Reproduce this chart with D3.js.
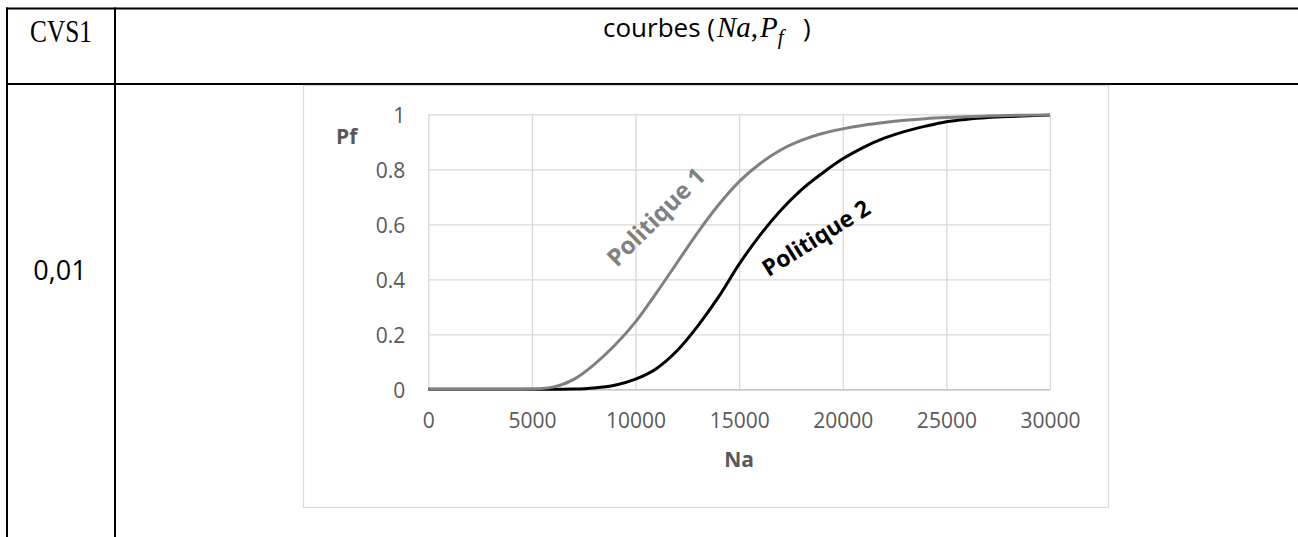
<!DOCTYPE html>
<html>
<head>
<meta charset="utf-8">
<script src="https://cdn.jsdelivr.net/npm/d3@7"></script>
<style>
  body { margin: 0; background: #fff; }
  svg { display: block; }
</style>
</head>
<body>
<svg id="chart" width="1298" height="537"></svg>
<script>
// Number of cycles Na and failure probability Pf for the two maintenance policies
const naValues = [0, 1000, 2000, 3000, 4000, 5000, 6000, 7000, 8000, 9000, 10000,
  11000, 12000, 13000, 14000, 15000, 16000, 17000, 18000, 19000, 20000,
  21000, 22000, 23000, 24000, 25000, 26000, 27000, 28000, 29000, 30000];
const politique1 = [0, 0, 0, 0, 0, 0.001, 0.008, 0.035, 0.09, 0.16, 0.245,
  0.35, 0.46, 0.57, 0.67, 0.755, 0.82, 0.87, 0.905, 0.93, 0.947,
  0.96, 0.97, 0.978, 0.984, 0.988, 0.991, 0.994, 0.996, 0.997, 0.998];
const politique2 = [0, 0, 0, 0, 0, 0, 0, 0.001, 0.005, 0.015, 0.037,
  0.075, 0.14, 0.23, 0.335, 0.455, 0.56, 0.65, 0.725, 0.785, 0.838,
  0.88, 0.913, 0.938, 0.957, 0.973, 0.982, 0.988, 0.992, 0.995, 0.997];
const seriesNames = ["Politique 1", "Politique 2"];
const xTicks = [0, 5000, 10000, 15000, 20000, 25000, 30000];
const xTickLabels = ["0", "5000", "10000", "15000", "20000", "25000", "30000"];
const yTicks = [0, 0.2, 0.4, 0.6, 0.8, 1];
const yTickLabels = ["0", "0.2", "0.4", "0.6", "0.8", "1"];
const cvsLabel = "CVS1";
const cvsValue = "0,01";

const svg = d3.select("#chart");
const SANS = "'Open Sans', 'Noto Sans', sans-serif";
const SERIF = "'Liberation Serif', 'DejaVu Serif', serif";

// ---- surrounding table ----
const table = svg.append("g").attr("stroke", "#000").attr("stroke-width", 2);
table.append("line").attr("x1", 6).attr("x2", 1300).attr("y1", 8.5).attr("y2", 8.5);
table.append("line").attr("x1", 6).attr("x2", 1300).attr("y1", 84).attr("y2", 84);
table.append("line").attr("x1", 7).attr("x2", 7).attr("y1", 7.5).attr("y2", 537);
table.append("line").attr("x1", 115).attr("x2", 115).attr("y1", 7.5).attr("y2", 537);

svg.append("text").attr("x", 61).attr("y", 41.5)
  .attr("text-anchor", "middle")
  .attr("font-family", SERIF).attr("font-size", 31)
  .attr("textLength", 62).attr("lengthAdjust", "spacingAndGlyphs")
  .attr("fill", "#000").text(cvsLabel);

svg.append("text").attr("x", 60).attr("y", 280)
  .attr("text-anchor", "middle")
  .attr("font-family", SANS).attr("font-size", 27)
  .attr("fill", "#000").text(cvsValue);

// header title: courbes (Na, P_f)
const title = svg.append("text").attr("y", 37).attr("fill", "#000");
title.append("tspan").attr("x", 603).attr("font-family", SANS).attr("font-size", 26).text("courbes (");
title.append("tspan").attr("x", 717).attr("font-family", SERIF).attr("font-style", "italic").attr("font-size", 29).text("Na");
title.append("tspan").attr("font-family", SERIF).attr("font-size", 29).text(",");
title.append("tspan").attr("dx", 2).attr("font-family", SERIF).attr("font-style", "italic").attr("font-size", 29).text("P");
title.append("tspan").attr("dx", 0).attr("dy", 7).attr("font-family", SERIF).attr("font-style", "italic").attr("font-size", 21).text("f");
title.append("tspan").attr("x", 803).attr("dy", -7).attr("font-family", SANS).attr("font-size", 26).text(")");

// ---- chart frame ----
svg.append("rect").attr("x", 303.5).attr("y", 85.5).attr("width", 805).attr("height", 422)
  .attr("fill", "#fff").attr("stroke", "#d9d9d9").attr("stroke-width", 1.2);

const plot = { left: 428.3, right: 1050, top: 114.3, bottom: 389.3 };
const x = d3.scaleLinear().domain([0, 30000]).range([plot.left, plot.right]);
const y = d3.scaleLinear().domain([0, 1]).range([plot.bottom, plot.top]);

// gridlines
const grid = svg.append("g");
grid.append("g").attr("transform", `translate(0,${plot.bottom})`)
  .call(d3.axisBottom(x).tickValues(xTicks).tickSize(-(plot.bottom - plot.top)).tickFormat(""))
  .call(g => g.select(".domain").remove())
  .call(g => g.selectAll(".tick line").attr("stroke", "#d9d9d9").attr("stroke-width", 1.3));
grid.append("g").attr("transform", `translate(${plot.left},0)`)
  .call(d3.axisLeft(y).tickValues(yTicks).tickSize(-(plot.right - plot.left)).tickFormat(""))
  .call(g => g.select(".domain").remove())
  .call(g => g.selectAll(".tick line").attr("stroke", "#d9d9d9").attr("stroke-width", 1.3));

// x axis baseline
svg.append("g").attr("transform", `translate(0,${plot.bottom})`)
  .call(d3.axisBottom(x).tickValues([]).tickSizeOuter(0))
  .call(g => g.select(".domain").attr("stroke", "#c8c8c8").attr("stroke-width", 1.5));

// tick labels
svg.append("g").attr("transform", `translate(0,${plot.bottom})`)
  .call(d3.axisBottom(x).tickValues(xTicks).tickSize(0).tickPadding(0)
    .tickFormat((d, i) => xTickLabels[i]))
  .call(g => g.select(".domain").remove())
  .call(g => g.selectAll(".tick text")
    .attr("y", 39).attr("dy", 0)
    .attr("font-family", SANS).attr("font-size", 21).attr("fill", "#595959"));

svg.append("g").attr("transform", `translate(${plot.left},0)`)
  .call(d3.axisLeft(y).tickValues(yTicks).tickSize(0).tickPadding(0)
    .tickFormat((d, i) => yTickLabels[i]))
  .call(g => g.select(".domain").remove())
  .call(g => g.selectAll(".tick text")
    .attr("x", -23).attr("dy", "0.38em")
    .attr("font-family", SANS).attr("font-size", 21).attr("fill", "#595959"));

// axis titles
svg.append("text").attr("x", 336).attr("y", 144)
  .attr("font-family", SANS).attr("font-weight", 700).attr("font-size", 21)
  .attr("fill", "#595959").text("Pf");
svg.append("text").attr("x", (plot.left + plot.right) / 2).attr("y", 467)
  .attr("text-anchor", "middle")
  .attr("font-family", SANS).attr("font-weight", 700).attr("font-size", 21)
  .attr("fill", "#595959").text("Na");

// ---- curves ----
const line = d3.line()
  .x((d, i) => x(naValues[i]))
  .y(d => y(d))
  .curve(d3.curveMonotoneX);

svg.append("path").datum(politique2)
  .attr("d", line).attr("fill", "none")
  .attr("stroke", "#000").attr("stroke-width", 3).attr("stroke-linejoin", "round");
svg.append("path").datum(politique1)
  .attr("d", line).attr("fill", "none")
  .attr("stroke", "#808080").attr("stroke-width", 3).attr("stroke-linejoin", "round");

// curve labels
svg.append("text")
  .attr("transform", "translate(656,217) rotate(-45)")
  .attr("text-anchor", "middle").attr("dy", "0.35em")
  .attr("font-family", SANS).attr("font-weight", 700).attr("font-size", 24)
  .attr("fill", "#808080").text(seriesNames[0]);
svg.append("text")
  .attr("transform", "translate(816,238) rotate(-32)")
  .attr("text-anchor", "middle").attr("dy", "0.35em")
  .attr("font-family", SANS).attr("font-weight", 700).attr("font-size", 23)
  .attr("fill", "#000").text(seriesNames[1]);
</script>
</body>
</html>
